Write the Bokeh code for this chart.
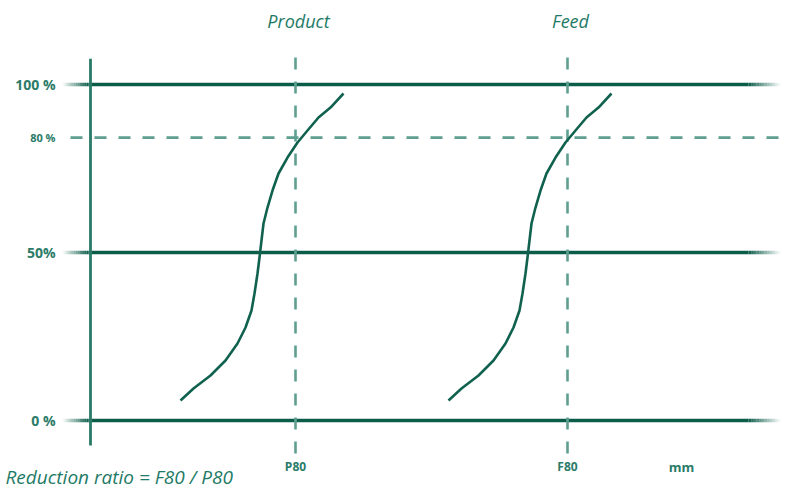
from bokeh.plotting import figure
from bokeh.models import Range1d
from bokeh.core.properties import value
from bokeh.embed import file_html
from bokeh.resources import INLINE

# ---- data (x: particle size in schematic units, y: % passing) ----
product_x = [180, 193, 210, 225, 237, 245, 251, 254, 257, 259, 261, 263, 267, 272, 278, 287, 297, 307, 318, 330, 343]
feed_x = [448, 461, 478, 493, 505, 513, 519, 522, 525, 527, 529, 531, 535, 540, 546, 555, 565, 575, 586, 598, 611]
curve_pct = [5.95, 9.52, 13.39, 17.86, 22.92, 27.68, 32.74, 37.80, 43.75, 48.51, 53.57, 58.63,
             63.39, 68.45, 73.51, 78.27, 82.74, 86.31, 90.18, 93.15, 97.32]

solid_levels = [0, 50, 100]
level_labels = ["0 %", "50%", "80 %", "100 %"]
level_label_pos = [0, 50, 84.2, 100]
p80_level = 84.2          # drawn position of the 80 % line in the schematic
p80_x = 295
f80_x = 567
top_labels = ["Product", "Feed"]
bottom_labels = ["P80", "F80"]
unit_label = "mm"
formula = "Reduction ratio = F80 / P80"

# ---- styling ----
C_SOLID = "#0c5c4a"
C_AXIS = "#2a7b68"
C_CURVE = "#10624f"
C_DASH = "#5e9f90"
C_TEXT = "#1e7a66"
FONT = value("Open Sans")

p = figure(width=790, height=491, output_backend="svg", toolbar_location=None,
           x_range=Range1d(0, 790), y_range=Range1d(-21.13, 125.0),
           min_border=0, outline_line_color=None)
p.axis.visible = False
p.grid.visible = False
p.background_fill_color = "white"
p.border_fill_color = "white"

# solid horizontal reference lines with faded ends
x_solid0, x_solid1 = 88, 748
for lv in solid_levels:
    p.segment(x0=[x_solid0], y0=[lv], x1=[x_solid1], y1=[lv], line_color=C_SOLID, line_width=3.5)
    n = 12
    lx = [62 + i * (x_solid0 - 62) / n for i in range(n + 1)]
    p.segment(x0=lx[:-1], y0=[lv] * n, x1=lx[1:], y1=[lv] * n, line_color=C_SOLID,
              line_width=3.5, line_alpha=[(i + 0.5) / n for i in range(n)])
    rx = [x_solid1 + i * (780 - x_solid1) / n for i in range(n + 1)]
    p.segment(x0=rx[:-1], y0=[lv] * n, x1=rx[1:], y1=[lv] * n, line_color=C_SOLID,
              line_width=3.5, line_alpha=[1 - (i + 0.5) / n for i in range(n)])

# 80 % dashed line
p.line([70, 790], [p80_level, p80_level], line_color=C_DASH, line_width=2.6, line_dash="12 12")

# vertical dashed lines at P80 and F80
for xv in [p80_x, f80_x]:
    p.line([xv, xv], [-9.82, 111.6], line_color=C_DASH, line_width=2.6, line_dash="12 12")

# vertical axis line
p.line([90, 90], [-7.44, 107.7], line_color=C_AXIS, line_width=2.8)

# grading curves
p.line(product_x, curve_pct, line_color=C_CURVE, line_width=2.6, line_join="round")
p.line(feed_x, curve_pct, line_color=C_CURVE, line_width=2.6, line_join="round")

# y level labels
sizes = ["14px", "14px", "11px", "14px"]
for lab, pos, sz in zip(level_labels, level_label_pos, sizes):
    p.text(x=[55], y=[pos], text=[lab], text_align="right", text_baseline="middle",
           text_font=FONT, text_font_style="bold", text_font_size=sz, text_color=C_AXIS)

# top labels
p.text(x=[p80_x + 3, f80_x + 3], y=[119.0, 119.0], text=top_labels, text_align="center",
       text_baseline="middle", text_font=FONT, text_font_style="italic",
       text_font_size="18px", text_color=C_TEXT)

# bottom labels
p.text(x=[p80_x, f80_x], y=[-13.7, -13.7], text=bottom_labels, text_align="center",
       text_baseline="middle", text_font=FONT, text_font_style="bold",
       text_font_size="12px", text_color=C_AXIS)
p.text(x=[681], y=[-13.9], text=[unit_label], text_align="center", text_baseline="middle",
       text_font=FONT, text_font_style="bold", text_font_size="13px", text_color=C_AXIS)

# formula
p.text(x=[5], y=[-16.7], text=[formula], text_align="left", text_baseline="middle",
       text_font=FONT, text_font_style="italic", text_font_size="19px", text_color=C_TEXT)

open("out.html", "w").write(file_html(p, INLINE))
